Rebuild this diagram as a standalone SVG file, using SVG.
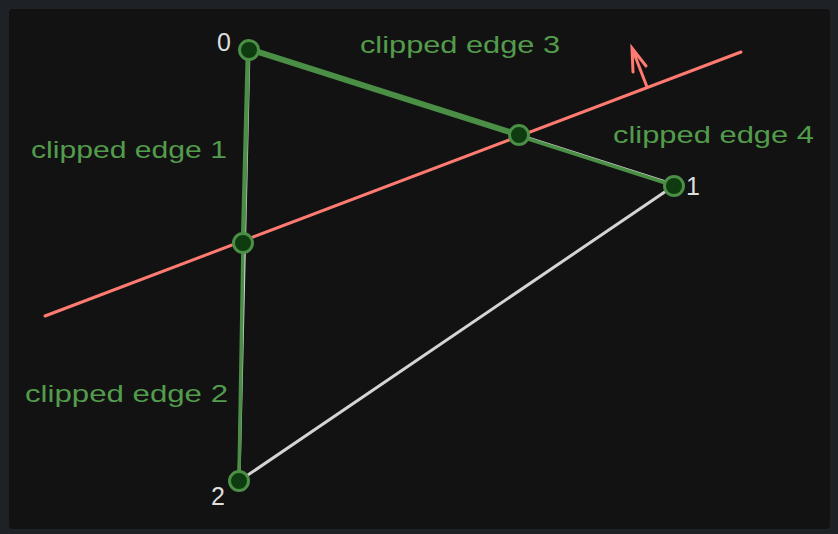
<svg xmlns="http://www.w3.org/2000/svg" width="838" height="534" viewBox="0 0 838 534">
<style>
.lbl{font-family:"Liberation Sans","Open Sans",sans-serif;font-size:24px;fill:#529c4c}
.num{font-family:"Liberation Sans","Open Sans",sans-serif;font-size:25px;fill:#dedede}
.gray{stroke:#d4d4d4;stroke-width:3;stroke-linecap:round;fill:none}
.green{stroke:#4a8f45;stroke-linecap:round;fill:none}
.red{stroke:#ff7b72;stroke-width:3;stroke-linecap:round;fill:none}
.pt{fill:#0e3b10;stroke:#4a8f45;stroke-width:3}
</style>
<rect x="0" y="0" width="838" height="534" fill="#1e2125"/>
<rect x="9" y="9" width="821" height="520" rx="4" fill="#121212"/>
<g id="connectors">
<line class="red" x1="45" y1="316" x2="741" y2="52"/>
<path class="red" d="M647 87 L632 48 M633 72 L632 48 L646 66"/>
<line class="gray" x1="249" y1="49" x2="675" y2="185"/>
<line class="gray" x1="249" y1="49" x2="239" y2="481"/>
<line class="gray" x1="239" y1="481" x2="675" y2="185"/>
<line class="green" stroke-width="6" x1="249" y1="49" x2="519" y2="135"/>
<line class="green" stroke-width="3.5" x1="519" y1="136" x2="675" y2="186"/>
<line class="green" stroke-width="4.5" x1="248" y1="49" x2="243" y2="243"/>
<line class="green" stroke-width="3.5" x1="243" y1="243" x2="239" y2="478"/>
</g>
<g id="node-0"><circle class="pt" cx="249" cy="50" r="9.5"/><text class="num" x="217" y="51">0</text></g>
<g id="node-1"><circle class="pt" cx="674" cy="186" r="9.5"/><text class="num" x="686" y="195">1</text></g>
<g id="node-2"><circle class="pt" cx="239" cy="481" r="9.5"/><text class="num" x="211" y="505">2</text></g>
<g id="node-i1"><circle class="pt" cx="519" cy="135" r="9.5"/></g>
<g id="node-i2"><circle class="pt" cx="243" cy="243" r="9.5"/></g>
<g id="labels">
<text class="lbl" x="360" y="53" textLength="200" lengthAdjust="spacingAndGlyphs">clipped edge 3</text>
<text class="lbl" x="613" y="143" textLength="201" lengthAdjust="spacingAndGlyphs">clipped edge 4</text>
<text class="lbl" x="31" y="158" textLength="196" lengthAdjust="spacingAndGlyphs">clipped edge 1</text>
<text class="lbl" x="25" y="402" textLength="203" lengthAdjust="spacingAndGlyphs">clipped edge 2</text>
</g>
</svg>
